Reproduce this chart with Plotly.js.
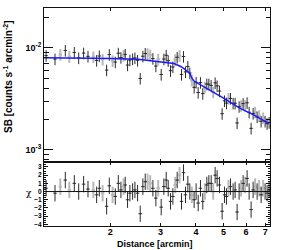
<!DOCTYPE html>
<html>
<head>
<meta charset="utf-8">
<script src="https://cdn.plot.ly/plotly-3.0.1.min.js"></script>
<style>html,body{margin:0;padding:0;background:#fff;}#chart{width:299px;height:250px;}</style>
</head>
<body>
<div id="chart"></div>
<script>
// Dataset A (black)
const distA = [1.19,1.279,1.390,1.495,1.549,1.612,1.670,1.791,1.830,1.942,1.984,2.083,2.134,2.180,2.257,2.300,2.344,2.396,2.441,2.494,2.548,2.603,2.653,2.823,2.892,3.019,3.085,3.144,3.195,3.256,3.318,3.436,3.558,3.616,3.675,3.745,3.806,3.941,4.005,4.072,4.148,4.227,4.367,4.439,4.523,4.671,4.747,4.837,4.943,5.037,5.119,5.287,5.402,5.490,5.579,5.670,5.857,6.049,6.149,6.248,6.350,6.559,6.775,6.997,7.111,7.227];
const sbA = [0.00842,0.00779,0.00946,0.00904,0.00798,0.00891,0.00828,0.00754,0.00835,0.00607,0.00862,0.00727,0.00889,0.00806,0.00866,0.00680,0.00761,0.00780,0.00799,0.00757,0.00503,0.00830,0.00884,0.00787,0.00664,0.00550,0.00779,0.00849,0.00751,0.00599,0.00652,0.00810,0.00550,0.00825,0.00583,0.00659,0.00568,0.00411,0.00460,0.00366,0.00458,0.00357,0.00443,0.00442,0.00429,0.00455,0.00425,0.00378,0.00227,0.00303,0.00288,0.00320,0.00287,0.00287,0.00184,0.00266,0.00285,0.00290,0.00234,0.00163,0.00228,0.00211,0.00191,0.00191,0.00181,0.00186];
const chiA = [0.4,-0.2,1.4,1.0,0,0.9,0.3,-0.4,0.4,-1.8,0.7,-0.6,1.0,0.2,0.8,-1.0,-0.2,0,0.2,-0.2,-2.7,0.6,1.2,0.4,-0.8,-1.9,0.6,1.4,0.4,-1.2,-0.6,1.4,-1.2,2.3,-0.4,0.9,0,-1.0,0,-1.4,0.4,-1.2,0.8,1.0,1.0,2.0,1.6,0.8,-2.4,-0.4,-0.6,0.6,0,0.2,-2.5,0,1.0,1.6,0,-2.2,0.2,0,-0.4,0,-0.2,0.2];

// Dataset B (grey)
const distB = [1.335,1.436,1.744,1.880,2.038,2.227,2.704,2.763,2.947,3.381,3.502,3.868,4.297,4.597,5.203,5.762,5.952,6.454,6.666,6.885];
const sbB = [0.00862,0.00821,0.00817,0.00772,0.00749,0.00846,0.00879,0.00852,0.00775,0.00767,0.00842,0.00483,0.00412,0.00370,0.00320,0.00272,0.00272,0.00234,0.00217,0.00206];
const chiB = [0.6,0.2,0.2,-0.2,-0.4,0.6,1.2,1.0,0.4,0.8,2.0,-0.4,0,0,0.4,0.4,0.8,0.6,0.4,0.4];

// Model curve
const modelDist = [1.17,1.5,2.0,2.5,2.8,3.1,3.35,3.55,3.7,3.8,3.88,3.95,4.05,4.5,5.0,5.7,6.4,7.2];
const modelSB = [0.0080,0.0080,0.0079,0.00777,0.0075,0.00722,0.00705,0.00655,0.00605,0.0057,0.0050,0.0047,0.00453,0.00383,0.00322,0.00257,0.0022,0.00182];

// Ticks
const xTicks = [2,3,4,5,6,7];
const yTicks = [0.001,0.01];
const yTickText = ['10<sup>-3</sup>','10<sup>-2</sup>'];
const yMinor = [0.0008,0.0009,0.002,0.003,0.004,0.005,0.006,0.007,0.008,0.009,0.02];
const chiTicks = [3,2,1,0,-1,-2,-3,-4];

const FONT = 'Liberation Sans, Arial, Helvetica, sans-serif';
const blackC = '#2a2a2a', greyC = '#b8b8b8';

function pts(x, y, xa, ya, color, w, ey) {
  return {
    x: x, y: y, xaxis: xa, yaxis: ya, type: 'scatter', mode: 'markers',
    marker: {size: 1, color: color},
    error_x: {type: 'percent', value: 1.4, color: color, thickness: w, width: 0},
    error_y: ey,
    showlegend: false, hoverinfo: 'none'
  };
}

const traces = [
  pts(distB, sbB, 'x', 'y', greyC, 2, {type: 'percent', value: 13, color: greyC, thickness: 2, width: 0}),
  pts(distA, sbA, 'x', 'y', blackC, 1, {type: 'percent', value: 13, color: blackC, thickness: 1, width: 0}),
  pts(distB, chiB, 'x2', 'y2', greyC, 2, {type: 'constant', value: 1, color: greyC, thickness: 2, width: 0}),
  pts(distA, chiA, 'x2', 'y2', blackC, 1, {type: 'constant', value: 1, color: blackC, thickness: 1, width: 0}),
  {x: modelDist, y: modelSB, xaxis: 'x', yaxis: 'y', type: 'scatter', mode: 'lines',
   line: {color: '#1a1aff', width: 1.5}, showlegend: false, hoverinfo: 'none'}
];

const split = 64/218;
const xr = [Math.log10(1.17), Math.log10(7.28)];
const axCommon = {showline: true, linecolor: '#111', linewidth: 1, mirror: 'ticks', showgrid: false, zeroline: false,
  ticks: 'inside', tickcolor: '#111', tickwidth: 1};

const layout = {
  width: 299, height: 250,
  margin: {l: 44, r: 29, t: 8, b: 24, pad: 0},
  paper_bgcolor: '#fff', plot_bgcolor: '#fff',
  font: {family: FONT, color: '#000'},
  xaxis: Object.assign({}, axCommon, {type: 'log', range: xr, domain: [0,1], anchor: 'y',
    tickmode: 'array', tickvals: xTicks, showticklabels: false, ticklen: 3}),
  yaxis: Object.assign({}, axCommon, {type: 'log', range: [-3.118, -1.608], domain: [split, 1], anchor: 'x',
    tickmode: 'array', tickvals: yTicks, ticktext: yTickText, ticklen: 9,
    tickfont: {family: FONT, size: 9, weight: 'bold', color: '#000'},
    minor: {tickmode: 'array', tickvals: yMinor, ticks: 'inside', ticklen: 4.5, tickcolor: '#111'}}),
  xaxis2: Object.assign({}, axCommon, {type: 'log', range: xr, domain: [0,1], anchor: 'y2', matches: 'x',
    tickmode: 'array', tickvals: xTicks, ticktext: xTicks.map(String), ticklen: 3, ticklabelstandoff: -3,
    tickfont: {family: FONT, size: 9, weight: 'bold', color: '#000'}}),
  yaxis2: Object.assign({}, axCommon, {range: [-4.2, 3.6], domain: [0, split], anchor: 'x2',
    tickmode: 'array', tickvals: chiTicks, ticklen: 4,
    tickfont: {family: FONT, size: 6.5, weight: 'bold', color: '#000'},
    minor: {dtick: 0.25, ticks: 'inside', ticklen: 2, tickcolor: '#111'}}),
  shapes: [
    {type: 'line', xref: 'x2 domain', x0: 0, x1: 1, yref: 'y2', y0: 0, y1: 0, line: {color: '#111', width: 1}}
  ],
  annotations: [
    {text: '<b>SB [counts s<sup>-1</sup> arcmin<sup>-2</sup>]</b>', xref: 'paper', yref: 'paper',
     x: (8-44)/226, y: (226-77)/218, xanchor: 'center', yanchor: 'middle', textangle: -90, showarrow: false,
     font: {family: FONT, size: 10, color: '#000'}},
    {text: 'χ', xref: 'paper', yref: 'paper', x: (29-44)/226, y: (226-193)/218, xanchor: 'center', yanchor: 'middle',
     showarrow: false, font: {family: 'DejaVu Serif, serif', size: 9, color: '#000'}},
    {text: '<b>Distance [arcmin]</b>', xref: 'paper', yref: 'paper', x: (155-44)/226, y: (226-244)/218,
     xanchor: 'center', yanchor: 'middle', showarrow: false, font: {family: FONT, size: 9, color: '#000'}}
  ]
};

Plotly.newPlot('chart', traces, layout, {displayModeBar: false, staticPlot: true});
</script>
</body>
</html>
